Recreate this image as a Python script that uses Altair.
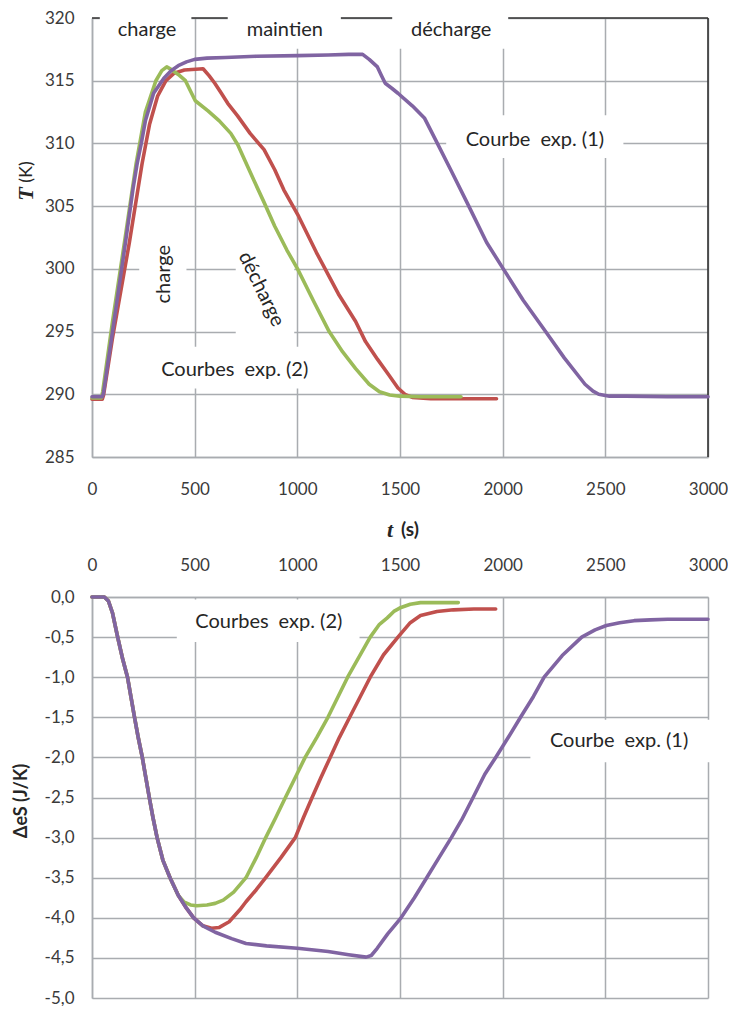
import altair as alt
import pandas as pd

# ---------------- Top panel : T (K) versus t (s) ----------------
t_T_exp1 = [0, 50, 56, 100, 163, 200, 220, 240, 260, 300, 350, 385, 420, 460, 500, 560, 650, 800,
            1000, 1150, 1250, 1318, 1350, 1390, 1410, 1428, 1460, 1490, 1560, 1620, 1682, 1750,
            1826, 1922, 2003, 2100, 2209, 2300, 2401, 2440, 2468, 2520, 2600, 2800, 3000]
T_exp1 = [289.8, 289.8, 290.1, 295.0, 302.1, 306.4, 308.4, 310.0, 311.8, 314.0, 315.2, 315.8,
          316.2, 316.5, 316.7, 316.8, 316.85, 316.95, 317.0, 317.05, 317.1, 317.1, 316.7, 316.1,
          315.4, 314.8, 314.4, 314.0, 313.0, 312.0, 310.0, 307.8, 305.3, 302.1, 300.0, 297.5,
          295.0, 292.9, 290.8, 290.25, 290.0, 289.85, 289.85, 289.8, 289.8]

t_T_exp2_red = [0, 50, 56, 100, 182, 244, 280, 320, 360, 400, 450, 541, 570, 598, 630, 661, 709,
                770, 838, 890, 934, 1006, 1093, 1200, 1284, 1332, 1390, 1443, 1490, 1524, 1560,
                1650, 1800, 1970]
T_exp2_red = [289.6, 289.6, 289.9, 294.5, 302.1, 308.4, 311.5, 313.8, 315.0, 315.6, 315.85,
              315.95, 315.4, 314.8, 314.0, 313.2, 312.2, 310.8, 309.5, 307.9, 306.3, 304.2,
              301.3, 298.0, 295.8, 294.2, 292.8, 291.6, 290.5, 290.0, 289.75, 289.65, 289.65,
              289.65]

t_T_exp2_green = [0, 45, 52, 100, 158, 215, 260, 311, 340, 364, 385, 420, 455, 503, 565, 620,
                  676, 710, 743, 790, 838, 890, 949, 1001, 1080, 1155, 1220, 1284, 1350, 1400,
                  1450, 1500, 1600, 1797]
T_exp2_green = [289.7, 289.7, 290.2, 295.8, 302.1, 308.4, 312.5, 315.0, 315.8, 316.1, 315.9,
                315.5, 315.0, 313.4, 312.6, 311.8, 310.8, 309.9, 308.7, 307.0, 305.3, 303.4,
                301.5, 300.0, 297.4, 295.0, 293.4, 292.05, 290.8, 290.2, 289.95, 289.85, 289.8,
                289.8]

# ---------------- Bottom panel : ΔeS (J/K) versus t (s) ----------------
t_S_exp1 = [0, 60, 80, 100, 125, 150, 173, 190, 207, 225, 245, 262, 279, 297, 317, 345, 380, 420,
            460, 495, 540, 600, 680, 750, 850, 1000, 1150, 1250, 1335, 1360, 1389, 1440, 1505,
            1570, 1630, 1690, 1750, 1800, 1856, 1913, 1966, 2030, 2087, 2150, 2202, 2290, 2385,
            2450, 2505, 2570, 2640, 2720, 2803, 2900, 3000]
S_exp1 = [0.0, 0.0, -0.05, -0.2, -0.5, -0.78, -1.0, -1.25, -1.5, -1.75, -2.0, -2.25, -2.5, -2.75,
          -3.0, -3.28, -3.5, -3.72, -3.88, -4.0, -4.1, -4.18, -4.26, -4.32, -4.35, -4.38, -4.42,
          -4.46, -4.49, -4.47, -4.38, -4.2, -4.0, -3.75, -3.5, -3.25, -3.0, -2.78, -2.5, -2.21,
          -2.0, -1.74, -1.5, -1.24, -1.0, -0.73, -0.5, -0.41, -0.355, -0.32, -0.295, -0.285,
          -0.277, -0.277, -0.277]

t_S_exp2_red = [0, 60, 80, 100, 125, 150, 173, 190, 207, 225, 245, 262, 279, 297, 317, 345, 380,
                420, 460, 495, 540, 582, 620, 668, 720, 750, 800, 846, 920, 990, 1030, 1072, 1115,
                1160, 1205, 1255, 1305, 1355, 1420, 1490, 1550, 1600, 1680, 1760, 1860, 1966]
S_exp2_red = [0.0, 0.0, -0.05, -0.2, -0.5, -0.78, -1.0, -1.25, -1.5, -1.75, -2.0, -2.25, -2.5,
              -2.75, -3.0, -3.28, -3.5, -3.72, -3.88, -4.0, -4.1, -4.13, -4.12, -4.05, -3.9,
              -3.8, -3.65, -3.5, -3.25, -3.0, -2.75, -2.5, -2.25, -2.0, -1.75, -1.5, -1.25,
              -1.0, -0.72, -0.5, -0.32, -0.23, -0.18, -0.16, -0.15, -0.15]

t_S_exp2_green = [0, 60, 80, 100, 125, 150, 173, 190, 207, 225, 245, 262, 279, 297, 317, 345, 380,
                  420, 447, 480, 510, 560, 600, 639, 690, 750, 800, 846, 895, 942, 990, 1038,
                  1095, 1149, 1197, 1245, 1300, 1355, 1400, 1438, 1470, 1505, 1550, 1600, 1700,
                  1784]
S_exp2_green = [0.0, 0.0, -0.05, -0.2, -0.5, -0.78, -1.0, -1.25, -1.5, -1.75, -2.0, -2.25, -2.5,
                -2.75, -3.0, -3.28, -3.5, -3.72, -3.8, -3.84, -3.85, -3.84, -3.82, -3.78, -3.68,
                -3.5, -3.25, -3.0, -2.75, -2.5, -2.25, -2.0, -1.75, -1.5, -1.25, -1.0, -0.75,
                -0.5, -0.34, -0.26, -0.18, -0.13, -0.09, -0.07, -0.07, -0.07]

# ---------------- Ticks ----------------
t_ticks = [0, 500, 1000, 1500, 2000, 2500, 3000]
T_ticks = [285, 290, 295, 300, 305, 310, 315, 320]
S_ticks = [0.0, -0.5, -1.0, -1.5, -2.0, -2.5, -3.0, -3.5, -4.0, -4.5, -5.0]

# ---------------- Annotations ----------------
top_labels = ["charge", "maintien", "décharge", "Courbe\u2002exp. (1)", "Courbes\u2002exp. (2)"]
top_labels_t = [268, 939, 1749, 2157, 695]
top_labels_T = [319.05, 319.05, 319.05, 310.26, 291.97]
top_boxes_t0 = [38, 661, 1462, 1725, 278, 230, 700]
top_boxes_t1 = [484, 1212, 2027, 2588, 1093, 460, 985]
top_boxes_T0 = [317.55, 317.55, 317.55, 308.84, 290.46, 296.4, 294.6]
top_boxes_T1 = [320.4, 320.4, 320.4, 312.24, 293.79, 302.7, 301.7]

bot_labels = ["Courbes\u2002exp. (2)", "Courbe\u2002exp. (1)"]
bot_labels_t = [861, 2567]
bot_labels_S = [-0.306, -1.797]
bot_boxes_t0 = [413, 2135]
bot_boxes_t1 = [1303, 3010]
bot_boxes_S0 = [-0.56, -2.06]
bot_boxes_S1 = [-0.03, -1.53]

PURPLE, RED, GREEN = "#8064A2", "#C0504D", "#9BBB59"
GRID = "#A9ACB0"
DARK = "#333333"
TXT = "#3A3A3A"
FONT = "Lato"
W = 616
H_TOP = 439
H_BOT = 401
LW = 3.6


def axis_x(orient, pad):
    return alt.Axis(orient=orient, values=t_ticks, format="d", title=None, grid=True, ticks=False,
                    gridColor=GRID, gridWidth=1.5, domainColor=GRID, domainWidth=1.5,
                    labelFont=FONT, labelFontSize=17, labelColor=TXT, labelPadding=pad,
                    labelFlush=False, labelOverlap=False)


def axis_y(values, expr=None):
    kw = dict(values=values, title=None, grid=True, ticks=False, gridColor=GRID, gridWidth=1.5,
              domainColor=GRID, domainWidth=1.5, labelFont=FONT, labelFontSize=17,
              labelColor=TXT, labelPadding=18, labelFlush=False, labelOverlap=False)
    if expr:
        kw["labelExpr"] = expr
    return alt.Axis(**kw)


xs = alt.Scale(domain=[0, 3000], nice=False, zero=False)
ys_top = alt.Scale(domain=[285, 320], nice=False, zero=False)
ys_bot = alt.Scale(domain=[-5, 0], nice=False, zero=False)


class Panel:
    def __init__(self, yscale, xaxis, yaxis):
        self.yscale, self.xaxis, self.yaxis = yscale, xaxis, yaxis

    def X(self, f):
        return alt.X(f, scale=xs, axis=self.xaxis)

    def Y(self, f):
        return alt.Y(f, scale=self.yscale, axis=self.yaxis)

    def series(self, ts, vs, color):
        df = pd.DataFrame({"t": ts, "v": vs})
        return alt.Chart(df).mark_line(color=color, strokeWidth=LW, strokeJoin="round",
                                       strokeCap="round").encode(x=self.X("t:Q"), y=self.Y("v:Q"))

    def boxes(self, t0, t1, v0, v1):
        df = pd.DataFrame({"t": t0, "t1": t1, "v": v0, "v1": v1})
        return alt.Chart(df).mark_rect(color="white").encode(
            x=self.X("t:Q"), x2="t1", y=self.Y("v:Q"), y2="v1")

    def rules(self, t0, t1, v0, v1, color):
        df = pd.DataFrame({"t": t0, "t1": t1, "v": v0, "v1": v1})
        return alt.Chart(df).mark_rule(color=color, strokeWidth=1.6).encode(
            x=self.X("t:Q"), x2="t1", y=self.Y("v:Q"), y2="v1")

    def labels(self, ts, vs, txt, angle=0, size=20):
        df = pd.DataFrame({"t": ts, "v": vs, "label": txt})
        return alt.Chart(df).mark_text(font=FONT, fontSize=size, color="#262626", angle=angle,
                                       align="center", baseline="middle").encode(
            x=self.X("t:Q"), y=self.Y("v:Q"), text="label:N")


def free_text(txt, px, py, font, size, weight="normal", style="normal", angle=0):
    df = pd.DataFrame({"label": [txt]})
    return alt.Chart(df).mark_text(font=font, fontSize=size, fontWeight=weight, fontStyle=style,
                                   color="#262626", angle=angle, align="center",
                                   baseline="middle").encode(
        x=alt.value(px), y=alt.value(py), text="label:N")


# ---- top chart ----
P = Panel(ys_top, axis_x("bottom", 24), axis_y(T_ticks))
top = alt.layer(
    P.rules([0, 3000], [3000, 3000], [320, 285], [320, 320], DARK),
    P.boxes(top_boxes_t0, top_boxes_t1, top_boxes_T0, top_boxes_T1),
    P.series(t_T_exp2_red, T_exp2_red, RED),
    P.series(t_T_exp2_green, T_exp2_green, GREEN),
    P.series(t_T_exp1, T_exp1, PURPLE),
    P.labels(top_labels_t, top_labels_T, top_labels),
    P.labels([350], [299.57], ["charge"], angle=270),
    P.labels([824], [298.38], ["décharge"], angle=64),
    free_text("T", -66, 176, "Liberation Serif", 22, "bold", "italic", 270),
    free_text("(K)", -65, 154, FONT, 18, "normal", "normal", 270),
    free_text("t", W / 2 - 10, 512, "Liberation Serif", 22, "bold", "italic"),
    free_text("(s)", W / 2 + 10, 512, FONT, 19, "bold"),
).properties(width=W, height=H_TOP)

# ---- bottom chart ----
B = Panel(ys_bot, axis_x("top", 23),
          axis_y(S_ticks, "(datum.value < 0 ? '-' : '') + replace(format(abs(datum.value), '.1f'), '.', ',')"))
bottom = alt.layer(
    B.boxes(bot_boxes_t0, bot_boxes_t1, bot_boxes_S0, bot_boxes_S1),
    B.series(t_S_exp2_red, S_exp2_red, RED),
    B.series(t_S_exp2_green, S_exp2_green, GREEN),
    B.series(t_S_exp1, S_exp1, PURPLE),
    B.labels(bot_labels_t, bot_labels_S, bot_labels),
    free_text("ΔeS (J/K)", -70, 204, FONT, 18, "bold", "normal", 270),
).properties(width=W, height=H_BOT)

chart = alt.vconcat(top, bottom, spacing=15).properties(
    padding={"left": 5, "top": 1, "right": 0, "bottom": 0}
).configure(font=FONT).configure_view(strokeWidth=0)

chart.save("out.html", embed_options={"renderer": "svg", "actions": False})
